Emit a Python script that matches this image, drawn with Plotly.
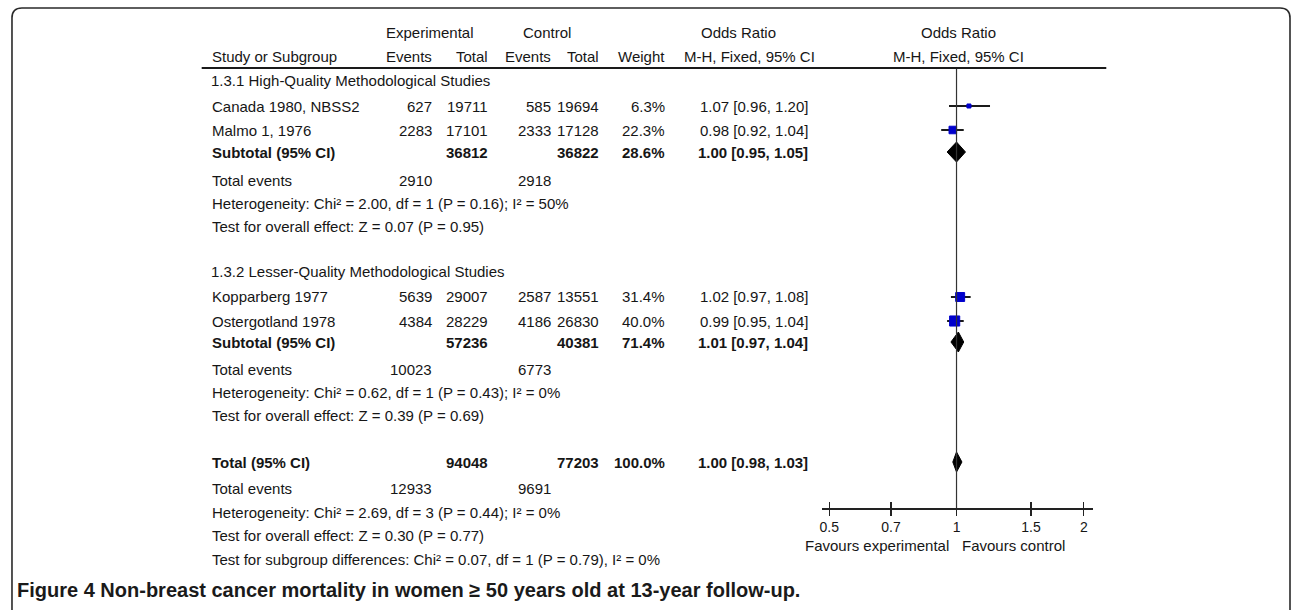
import math
import plotly.graph_objects as go

W, H = 1292, 610

# ---------------- data ----------------
section_titles = ["1.3.1 High-Quality Methodological Studies",
                  "1.3.2 Lesser-Quality Methodological Studies"]
studies = ["Canada 1980, NBSS2", "Malmo 1, 1976", "Kopparberg 1977", "Ostergotland 1978"]
exp_events = [627, 2283, 5639, 4384]
exp_total = [19711, 17101, 29007, 28229]
ctl_events = [585, 2333, 2587, 4186]
ctl_total = [19694, 17128, 13551, 26830]
weights = [6.3, 22.3, 31.4, 40.0]
or_est = [1.07, 0.98, 1.02, 0.99]
or_lo = [0.96, 0.92, 0.97, 0.95]
or_hi = [1.20, 1.04, 1.08, 1.04]

sum_labels = ["Subtotal (95% CI)", "Subtotal (95% CI)", "Total (95% CI)"]
sum_exp_total = [36812, 57236, 94048]
sum_ctl_total = [36822, 40381, 77203]
sum_weight = [28.6, 71.4, 100.0]
sum_est = [1.00, 1.01, 1.00]
sum_lo = [0.95, 0.97, 0.98]
sum_hi = [1.05, 1.04, 1.03]
tot_exp_events = [2910, 10023, 12933]
tot_ctl_events = [2918, 6773, 9691]
heterogeneity = ["Heterogeneity: Chi² = 2.00, df = 1 (P = 0.16); I² = 50%",
                 "Heterogeneity: Chi² = 0.62, df = 1 (P = 0.43); I² = 0%",
                 "Heterogeneity: Chi² = 2.69, df = 3 (P = 0.44); I² = 0%"]
overall = ["Test for overall effect: Z = 0.07 (P = 0.95)",
           "Test for overall effect: Z = 0.39 (P = 0.69)",
           "Test for overall effect: Z = 0.30 (P = 0.77)"]
subgroup_test = "Test for subgroup differences: Chi² = 0.07, df = 1 (P = 0.79), I² = 0%"
tick_vals = [0.5, 0.7, 1, 1.5, 2]
tick_text = ["0.5", "0.7", "1", "1.5", "2"]
caption_label = "Figure 4"
caption_text = "Non-breast cancer mortality in women ≥ 50 years old at 13-year follow-up."

# ---------------- layout positions (pixels) ----------------
section_rows = [80, 271]
study_rows = [106, 130, 297, 321]
sum_rows = [152, 342, 462]
tev_rows = [180, 369, 488]
het_rows = [203, 392, 512]
ove_rows = [226, 415, 535]
subgroup_row = 559

X_STUDY = 209
X_EEV, X_ETOT, X_CEV, X_CTOT, X_W, X_OR = 432, 488, 551, 599, 665, 808

FONT = "Liberation Sans, Arial, sans-serif"
TXT = "#161616"
annotations = []


def txt(x, y, s, anchor="left", bold=False, size=15, family=FONT, color=TXT):
    annotations.append(dict(
        x=x / W, y=1 - y / H, xref="paper", yref="paper",
        text=f"<b>{s}</b>" if bold else s, showarrow=False,
        xanchor=anchor, yanchor="middle", borderpad=0,
        font=dict(family=family, size=size, color=color)))


def fmt_or(e, l, h):
    return f"{e:.2f} [{l:.2f}, {h:.2f}]"


# headers
txt(429, 33, "Experimental", "center")
txt(546, 33, "Control", "center")
txt(738, 33, "Odds Ratio", "center")
txt(958, 33, "Odds Ratio", "center")
txt(X_STUDY, 57, "Study or Subgroup")
txt(X_EEV, 57, "Events", "right")
txt(X_ETOT, 57, "Total", "right")
txt(X_CEV, 57, "Events", "right")
txt(X_CTOT, 57, "Total", "right")
txt(X_W, 57, "Weight", "right")
txt(749, 57, "M-H, Fixed, 95% CI", "center")
txt(958, 57, "M-H, Fixed, 95% CI", "center")

for s, y in zip(section_titles, section_rows):
    txt(X_STUDY - 1, y, s)

for i, y in enumerate(study_rows):
    txt(X_STUDY, y, studies[i])
    txt(X_EEV, y, str(exp_events[i]), "right")
    txt(X_ETOT, y, str(exp_total[i]), "right")
    txt(X_CEV, y, str(ctl_events[i]), "right")
    txt(X_CTOT, y, str(ctl_total[i]), "right")
    txt(X_W, y, f"{weights[i]:.1f}%", "right")
    txt(X_OR, y, fmt_or(or_est[i], or_lo[i], or_hi[i]), "right")

for i, y in enumerate(sum_rows):
    txt(X_STUDY, y, sum_labels[i], bold=True)
    txt(X_ETOT, y, str(sum_exp_total[i]), "right", bold=True)
    txt(X_CTOT, y, str(sum_ctl_total[i]), "right", bold=True)
    txt(X_W, y, f"{sum_weight[i]:.1f}%", "right", bold=True)
    txt(X_OR, y, fmt_or(sum_est[i], sum_lo[i], sum_hi[i]), "right", bold=True)

for i in range(3):
    txt(X_STUDY, tev_rows[i], "Total events")
    txt(X_EEV, tev_rows[i], str(tot_exp_events[i]), "right")
    txt(X_CEV, tev_rows[i], str(tot_ctl_events[i]), "right")
    txt(X_STUDY, het_rows[i], heterogeneity[i])
    txt(X_STUDY, ove_rows[i], overall[i])
txt(X_STUDY, subgroup_row, subgroup_test)

txt(876, 545, "Favours experimental", "center")
txt(1013, 545, "Favours control", "center")

txt(14, 590, f"<b>{caption_label}</b> <b>{caption_text}</b>", "left", size=20,
    family="Liberation Sans, Arial, sans-serif", color="#1a1a1a")

fig = go.Figure()

# CI lines for studies
ci_x, ci_y = [], []
for l, h, y in zip(or_lo, or_hi, study_rows):
    ci_x += [l, h, None]
    ci_y += [y, y, None]
fig.add_trace(go.Scatter(x=ci_x, y=ci_y, mode="lines",
                         line=dict(color="#1a1a1a", width=2), hoverinfo="skip"))

# weighted squares
fig.add_trace(go.Scatter(
    x=or_est, y=study_rows, mode="markers",
    marker=dict(symbol="square", color="#0000cc", opacity=1,
                size=[1.6 * math.sqrt(w) for w in weights],
                line=dict(width=1, color="#0000cc")),
    hoverinfo="skip"))

# diamonds
for e, l, h, y in zip(sum_est, sum_lo, sum_hi, sum_rows):
    fig.add_trace(go.Scatter(
        x=[l, e, h, e, l], y=[y, y - 10, y, y + 10, y], mode="lines",
        fill="toself", fillcolor="#000000", line=dict(color="#000000", width=1),
        hoverinfo="skip"))

# null line at OR = 1
fig.add_shape(type="line", xref="x", yref="y", x0=1, x1=1, y0=68, y1=508,
              line=dict(color="#333333", width=1.2))
# header rule
fig.add_shape(type="line", xref="paper", yref="paper", x0=200 / W, x1=1106 / W,
              y0=1 - 68 / H, y1=1 - 68 / H, line=dict(color="#1a1a1a", width=2))

# frame with rounded top corners
L, T, R, B, r = 10, 8, 1290, 640, 10


def P(x, y):
    return f"{x / W:.5f},{1 - y / H:.5f}"


path = (f"M {P(L, B)} L {P(L, T + r)} Q {P(L, T)} {P(L + r, T)} "
        f"L {P(R - r, T)} Q {P(R, T)} {P(R, T + r)} L {P(R, B)}")
fig.add_shape(type="path", xref="paper", yref="paper", path=path,
              line=dict(color="#2a2a2a", width=1.6))

x_left_px, x_right_px, x_one_px, px_per_dec = 821, 1093, 956, 423.6
xr = [(x_left_px - x_one_px) / px_per_dec, (x_right_px - x_one_px) / px_per_dec]
axis_y = 1 - 508 / H

fig.update_layout(
    width=W, height=H, margin=dict(l=0, r=0, t=0, b=0),
    paper_bgcolor="white", plot_bgcolor="rgba(0,0,0,0)", showlegend=False,
    annotations=annotations,
    xaxis=dict(type="log", range=xr, domain=[x_left_px / W, x_right_px / W],
               anchor="free", position=axis_y, showline=True, linecolor="#222",
               linewidth=1.5, ticks="outside", ticklen=6, tickwidth=1.2, tickcolor="#222",
               tickvals=tick_vals, ticktext=tick_text, showgrid=False, zeroline=False,
               tickfont=dict(family=FONT, size=14, color=TXT), fixedrange=True),
    xaxis2=dict(type="log", range=xr, domain=[x_left_px / W, x_right_px / W],
                anchor="free", position=axis_y, overlaying="x", showline=False,
                ticks="inside", ticklen=6, tickwidth=1.2, tickcolor="#222",
                tickvals=tick_vals, showticklabels=False, showgrid=False, zeroline=False),
    yaxis=dict(range=[H, 0], domain=[0, 1], visible=False, fixedrange=True),
)
# invisible point so the overlaid tick axis is drawn
fig.add_trace(go.Scatter(x=[1], y=[-100], xaxis="x2", mode="markers",
                         marker=dict(opacity=0), hoverinfo="skip"))

fig.write_html("out.html", config={"displayModeBar": False, "staticPlot": True},
               post_script="document.body.style.margin='0';document.body.style.overflow='hidden';")
